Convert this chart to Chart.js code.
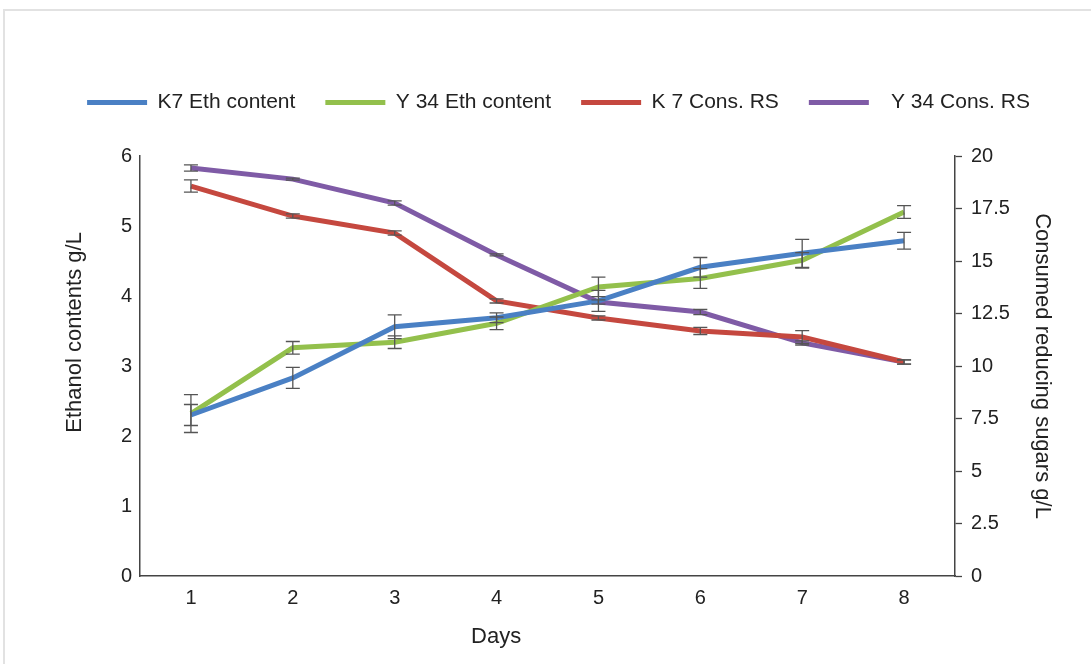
<!DOCTYPE html>
<html>
<head>
<meta charset="utf-8">
<script src="https://cdn.jsdelivr.net/npm/chart.js@4.4.1/dist/chart.umd.min.js"></script>
<style>
  html, body { margin: 0; padding: 0; background: #fff; overflow: hidden; }
  #frame { position: absolute; left: 3px; top: 9px; width: 1200px; height: 800px; border: 2px solid #e2e2e2; box-sizing: border-box; }
  #chart { position: absolute; left: 0; top: 0; }
</style>
</head>
<body>
<div id="frame"></div>
<canvas id="chart" width="1091" height="664"></canvas>
<script>
/* ===== DATA ===== */

const days = ['1', '2', '3', '4', '5', '6', '7', '8'];

// ethanol, g/L (left axis)
const k7Eth = [2.30, 2.83, 3.56, 3.69, 3.93, 4.41, 4.61, 4.79];
const y34Eth = [2.32, 3.26, 3.34, 3.61, 4.13, 4.25, 4.51, 5.20];
const k7EthErr = [0.15, 0.15, 0.17, 0.07, 0.15, 0.14, 0.20, 0.12];
const y34EthErr = [0.27, 0.09, 0.09, 0.09, 0.14, 0.14, 0.11, 0.09];

// consumed reducing sugars, g/L (right axis)
const k7RS = [18.57, 17.14, 16.33, 13.10, 12.29, 11.67, 11.38, 10.19];
const y34RS = [19.43, 18.90, 17.76, 15.29, 13.05, 12.57, 11.10, 10.19];
const k7RSErr = [0.29, 0.10, 0.10, 0.10, 0.10, 0.17, 0.30, 0.10];
const y34RSErr = [0.15, 0.05, 0.10, 0.05, 0.10, 0.12, 0.10, 0.10];

const leftTicks = [0, 1, 2, 3, 4, 5, 6];
const rightTicks = [0, 2.5, 5, 7.5, 10, 12.5, 15, 17.5, 20];

/* ===== HELPERS ===== */

const FONT_FAMILY = '"Liberation Sans", Arial, sans-serif';
const TEXT = '#222';
const AXIS = '#444';

// error bars drawn through the dataset's own y scale
const errorBarPlugin = {
  id: 'errorBars',
  afterDatasetsDraw(chart) {
    const { ctx } = chart;
    ctx.save();
    ctx.strokeStyle = '#555';
    ctx.lineWidth = 1.3;
    chart.data.datasets.forEach((ds, i) => {
      const meta = chart.getDatasetMeta(i);
      const yScale = chart.scales[ds.yAxisID];
      meta.data.forEach((pt, j) => {
        const v = ds.data[j], e = ds.errors[j];
        const yTop = yScale.getPixelForValue(v + e);
        const yBot = yScale.getPixelForValue(v - e);
        const x = pt.x;
        ctx.beginPath();
        ctx.moveTo(x, yTop); ctx.lineTo(x, yBot);
        ctx.moveTo(x - 7, yTop); ctx.lineTo(x + 7, yTop);
        ctx.moveTo(x - 7, yBot); ctx.lineTo(x + 7, yBot);
        ctx.stroke();
      });
    });
    ctx.restore();
  }
};

// "Days" and the left title sit off-centre in the original
const axisTitlesPlugin = {
  id: 'axisTitles',
  afterDraw(chart) {
    const { ctx, chartArea } = chart;
    ctx.save();
    ctx.font = '22px ' + FONT_FAMILY;
    ctx.fillStyle = TEXT;
    ctx.textAlign = 'center';
    ctx.textBaseline = 'middle';
    ctx.fillText('Days', chartArea.left + (chartArea.right - chartArea.left) * 0.437, 637);
    ctx.translate(75, chartArea.top + (chartArea.bottom - chartArea.top) * 0.42);
    ctx.rotate(-Math.PI / 2);
    ctx.fillText('Ethanol contents g/L', 0, 0);
    ctx.restore();
  }
};

// extra room under the legend
const legendGapPlugin = {
  id: 'legendGap',
  beforeInit(chart) {
    const fit = chart.legend.fit;
    chart.legend.fit = function() {
      fit.bind(chart.legend)();
      this.height += 33;
    };
  }
};

function line(label, data, errors, color, axis) {
  return {
    label, data, errors,
    yAxisID: axis,
    borderColor: color,
    backgroundColor: color,
    borderWidth: 5,
    pointRadius: 0,
    tension: 0,
  };
}

/* ===== CHART ===== */

new Chart(document.getElementById('chart'), {
  type: 'line',
  data: {
    labels: days,
    datasets: [
      line('K7 Eth content', k7Eth, k7EthErr, '#4a80c4', 'yL'),
      line('Y 34 Eth content', y34Eth, y34EthErr, '#93c04c', 'yL'),
      line('K 7 Cons. RS', k7RS, k7RSErr, '#c5483f', 'yR'),
      line('  Y 34 Cons. RS', y34RS, y34RSErr, '#7f5ba6', 'yR'),
    ]
  },
  options: {
    responsive: false,
    animation: false,
    layout: { padding: { left: 52, right: 26, top: 62, bottom: 0 } },
    plugins: {
      legend: {
        position: 'top',
        labels: {
          font: { family: FONT_FAMILY, size: 21 },
          color: TEXT,
          boxWidth: 60,
          boxHeight: 5,
          padding: 30,
          generateLabels(chart) {
            return chart.data.datasets.map((ds, i) => ({
              text: ds.label,
              fillStyle: ds.borderColor,
              strokeStyle: ds.borderColor,
              lineWidth: 0,
              fontColor: TEXT,
              datasetIndex: i,
            }));
          }
        }
      },
      tooltip: { enabled: false }
    },
    scales: {
      x: {
        offset: true,
        grid: { display: false, drawTicks: false },
        border: { color: AXIS, width: 1.5 },
        ticks: { font: { family: FONT_FAMILY, size: 20 }, color: TEXT, padding: 10, maxRotation: 0 },
        afterFit(scale) { scale.height = 88; }
      },
      yL: {
        position: 'left',
        min: 0, max: 6,
        afterBuildTicks(scale) { scale.ticks = leftTicks.map(v => ({ value: v })); },
        grid: { display: false, drawTicks: false },
        border: { color: AXIS, width: 1.5 },
        ticks: { font: { family: FONT_FAMILY, size: 20 }, color: TEXT, padding: 8 },
        afterFit(scale) { scale.width = 88; }
      },
      yR: {
        position: 'right',
        min: 0, max: 20,
        afterBuildTicks(scale) { scale.ticks = rightTicks.map(v => ({ value: v })); },
        grid: { drawOnChartArea: false, drawTicks: true, tickLength: 7, tickColor: AXIS, tickWidth: 1.3 },
        border: { color: AXIS, width: 1.5 },
        ticks: { font: { family: FONT_FAMILY, size: 20 }, color: TEXT, padding: 9 },
        title: { display: true, text: 'Consumed reducing sugars g/L', font: { family: FONT_FAMILY, size: 22 }, color: TEXT, padding: { top: 10, bottom: 0 } },
        afterFit(scale) { scale.width = 110; }
      }
    }
  },
  plugins: [errorBarPlugin, axisTitlesPlugin, legendGapPlugin]
});
</script>
</body>
</html>
